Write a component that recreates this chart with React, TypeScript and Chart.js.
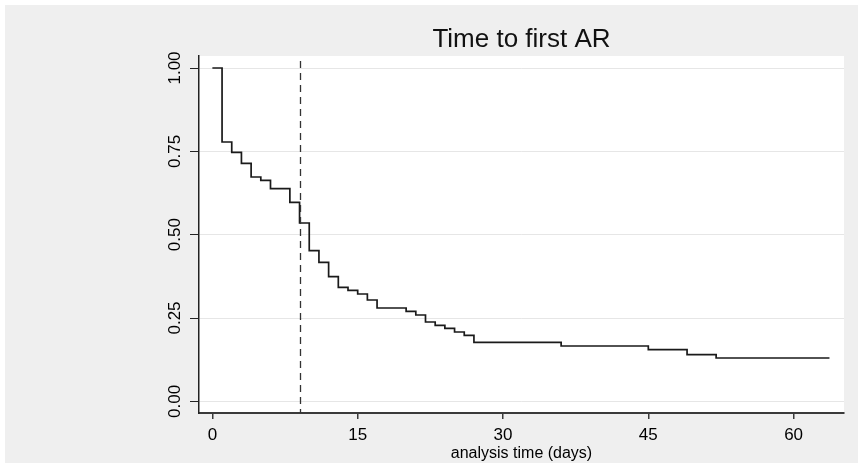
import React, { useEffect, useRef } from 'react';
import { Chart, registerables } from 'chart.js';

Chart.register(...registerables);

const TITLE = 'Time to first AR';
const X_TITLE = 'analysis time (days)';
const TIMES = [0, 1, 2, 3, 4, 5, 6, 8, 9, 10, 11, 12, 13, 14, 15, 16, 17, 20, 21, 22, 23, 24, 25, 26, 27, 36, 45, 49, 52, 63.7];
const SURVIVAL = [1.0, 0.778, 0.747, 0.714, 0.673, 0.663, 0.638, 0.597, 0.535, 0.452, 0.417, 0.374, 0.342, 0.333, 0.322, 0.304, 0.28, 0.27, 0.259, 0.238, 0.228, 0.219, 0.208, 0.198, 0.177, 0.166, 0.155, 0.14, 0.13, 0.13];
const X_TICKS = [0, 15, 30, 45, 60];
const Y_TICKS = [0, 0.25, 0.5, 0.75, 1];
const REF_DAY = 9;

const FONT = '"Liberation Sans", Arial, sans-serif';

const bgPlugin = {
  id: 'bgPlugin',
  beforeDraw(chart: any) {
    const { ctx, chartArea: a } = chart;
    ctx.save();
    ctx.fillStyle = '#ffffff';
    ctx.fillRect(0, 0, chart.width, chart.height);
    ctx.fillStyle = '#efefef';
    ctx.fillRect(5, 5, chart.width - 5, chart.height - 6);
    ctx.fillStyle = '#ffffff';
    ctx.fillRect(a.left, a.top, a.right - a.left, a.bottom - a.top);
    ctx.font = '26px ' + FONT;
    ctx.textAlign = 'center';
    ctx.textBaseline = 'middle';
    ctx.fillStyle = '#111111';
    ctx.fillText(TITLE, (a.left + a.right) / 2, 40);
    ctx.restore();
  },
  afterDatasetsDraw(chart: any) {
    const { ctx, chartArea: a, scales } = chart;
    const x = Math.round(scales.x.getPixelForValue(REF_DAY)) + 0.5;
    ctx.save();
    ctx.strokeStyle = '#333333';
    ctx.lineWidth = 1.3;
    ctx.setLineDash([7, 5]);
    ctx.beginPath();
    ctx.moveTo(x, a.top + 5);
    ctx.lineTo(x, a.bottom);
    ctx.stroke();
    ctx.restore();
  },
};

export default function App() {
  const ref = useRef<HTMLCanvasElement>(null);
  useEffect(() => {
    if (!ref.current) return;
    const chart = new Chart(ref.current, {
      type: 'scatter',
      data: {
        datasets: [
          {
            data: TIMES.map((t, i) => ({ x: t, y: SURVIVAL[i] })),
            showLine: true,
            stepped: 'before',
            borderColor: '#1a1a1a',
            borderWidth: 1.7,
            pointRadius: 0,
            fill: false,
          } as any,
        ],
      },
      options: {
        responsive: false,
        animation: false,
        layout: { padding: { left: 0, top: 56, right: 14, bottom: 0 } },
        plugins: {
          legend: { display: false },
          tooltip: { enabled: false },
          title: { display: false },
        },
        scales: {
          x: {
            type: 'linear',
            min: -1.38,
            max: 65.2,
            afterFit: (s: any) => {
              s.height = 51;
            },
            afterBuildTicks: (s: any) => {
              s.ticks = X_TICKS.map((v) => ({ value: v }));
            },
            border: { display: true, color: '#3a3a3a', width: 2 },
            grid: { display: true, drawOnChartArea: false, tickLength: 6, tickColor: '#3a3a3a', lineWidth: 1.5 },
            ticks: {
              color: '#000',
              font: { family: FONT, size: 17 },
              padding: 6,
              maxRotation: 0,
              minRotation: 0,
              callback: (v: any) => String(v),
            },
            title: {
              display: true,
              text: X_TITLE,
              color: '#000',
              font: { family: FONT, size: 16 },
              padding: { top: 0, bottom: 1 },
            },
          },
          y: {
            type: 'linear',
            min: -0.035,
            max: 1.036,
            afterFit: (s: any) => {
              s.width = 199;
            },
            afterBuildTicks: (s: any) => {
              s.ticks = Y_TICKS.map((v) => ({ value: v }));
            },
            border: { display: true, color: '#222', width: 1.5 },
            grid: { display: true, drawOnChartArea: true, color: '#e6e6e6', lineWidth: 1, tickLength: 9, tickColor: '#222' },
            ticks: {
              color: '#000',
              font: { family: FONT, size: 17 },
              padding: -2,
              minRotation: 90,
              maxRotation: 90,
              crossAlign: 'center',
              callback: (v: any) => Number(v).toFixed(2),
            },
          },
        },
      },
      plugins: [bgPlugin],
    });
    return () => chart.destroy();
  }, []);
  return (
    <div style={{ position: 'absolute', left: 0, top: 0, width: 858, height: 464 }}>
      <canvas ref={ref} width={858} height={464} style={{ display: 'block' }} />
    </div>
  );
}
